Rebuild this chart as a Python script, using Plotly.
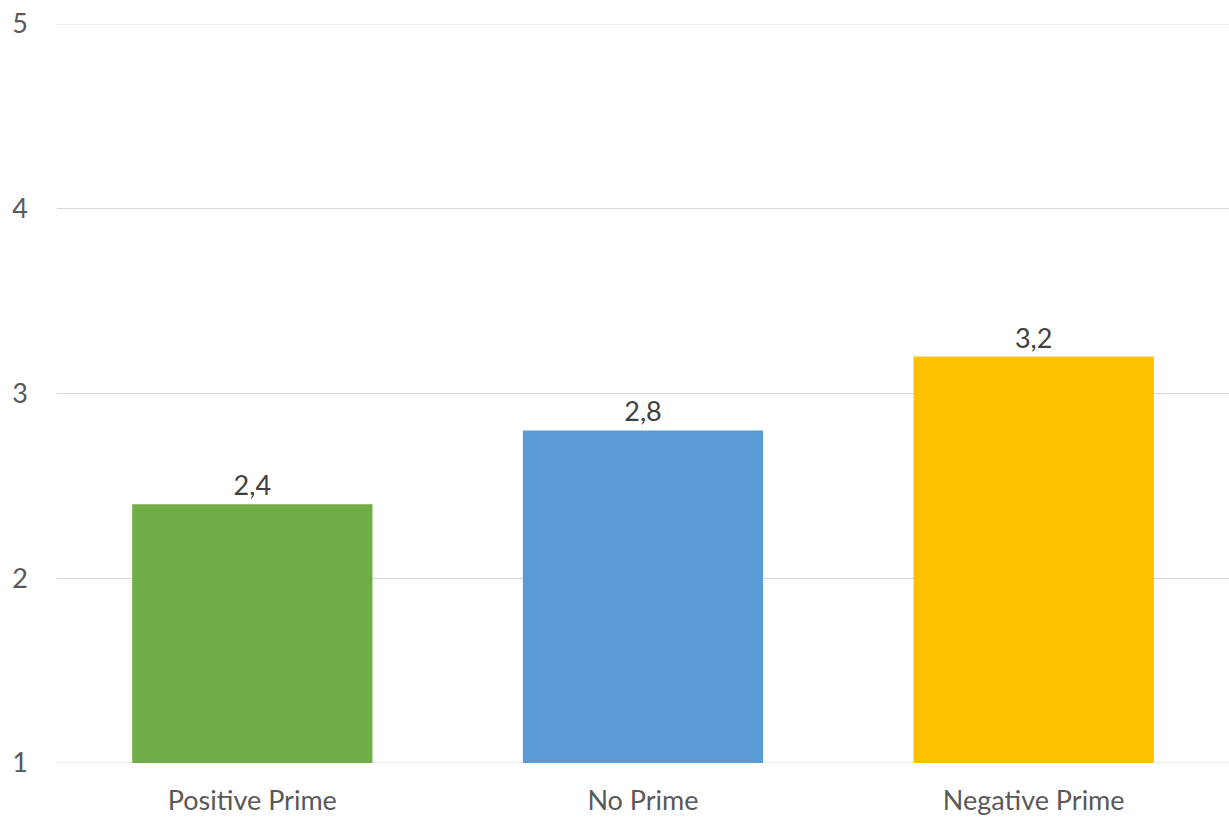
import plotly.graph_objects as go

categories = ["Positive Prime", "No Prime", "Negative Prime"]
values = [2.4, 2.8, 3.2]
colors = ["#70AD47", "#5B9BD5", "#FFC000"]
y_ticks = [1, 2, 3, 4, 5]
axis_min = 1

fig = go.Figure(go.Bar(
    x=categories,
    y=[v - axis_min for v in values],
    base=axis_min,
    marker_color=colors, marker_line_width=0,
    width=0.615,
    text=[f"{v:.1f}".replace(".", ",") for v in values],
    textposition="outside",
    textfont=dict(size=27, color="#404040", family="Lato"),
    cliponaxis=False,
))

# gridlines at the range ends (plotly omits them at the plot edges)
for t in (y_ticks[0], y_ticks[-1]):
    fig.add_shape(type="line", xref="paper", yref="y", x0=0, x1=1, y0=t, y1=t,
                  line=dict(color="#D9D9D9", width=1), layer="below")

fig.update_layout(
    width=1229, height=818,
    margin=dict(l=57, r=0, t=24, b=55),
    plot_bgcolor="white", paper_bgcolor="white",
    font=dict(family="Lato", size=27, color="#595959"),
    showlegend=False,
    xaxis=dict(showgrid=False, showline=False, ticks="", ticklabelstandoff=19,
               tickfont=dict(size=27, color="#595959")),
    yaxis=dict(range=[1, 5], tickvals=y_ticks, showgrid=True, gridcolor="#D9D9D9",
               gridwidth=1, zeroline=False, showline=False, ticks="",
               ticklabelstandoff=28, tickfont=dict(size=27, color="#595959")),
)
fig.write_html("out.html")
